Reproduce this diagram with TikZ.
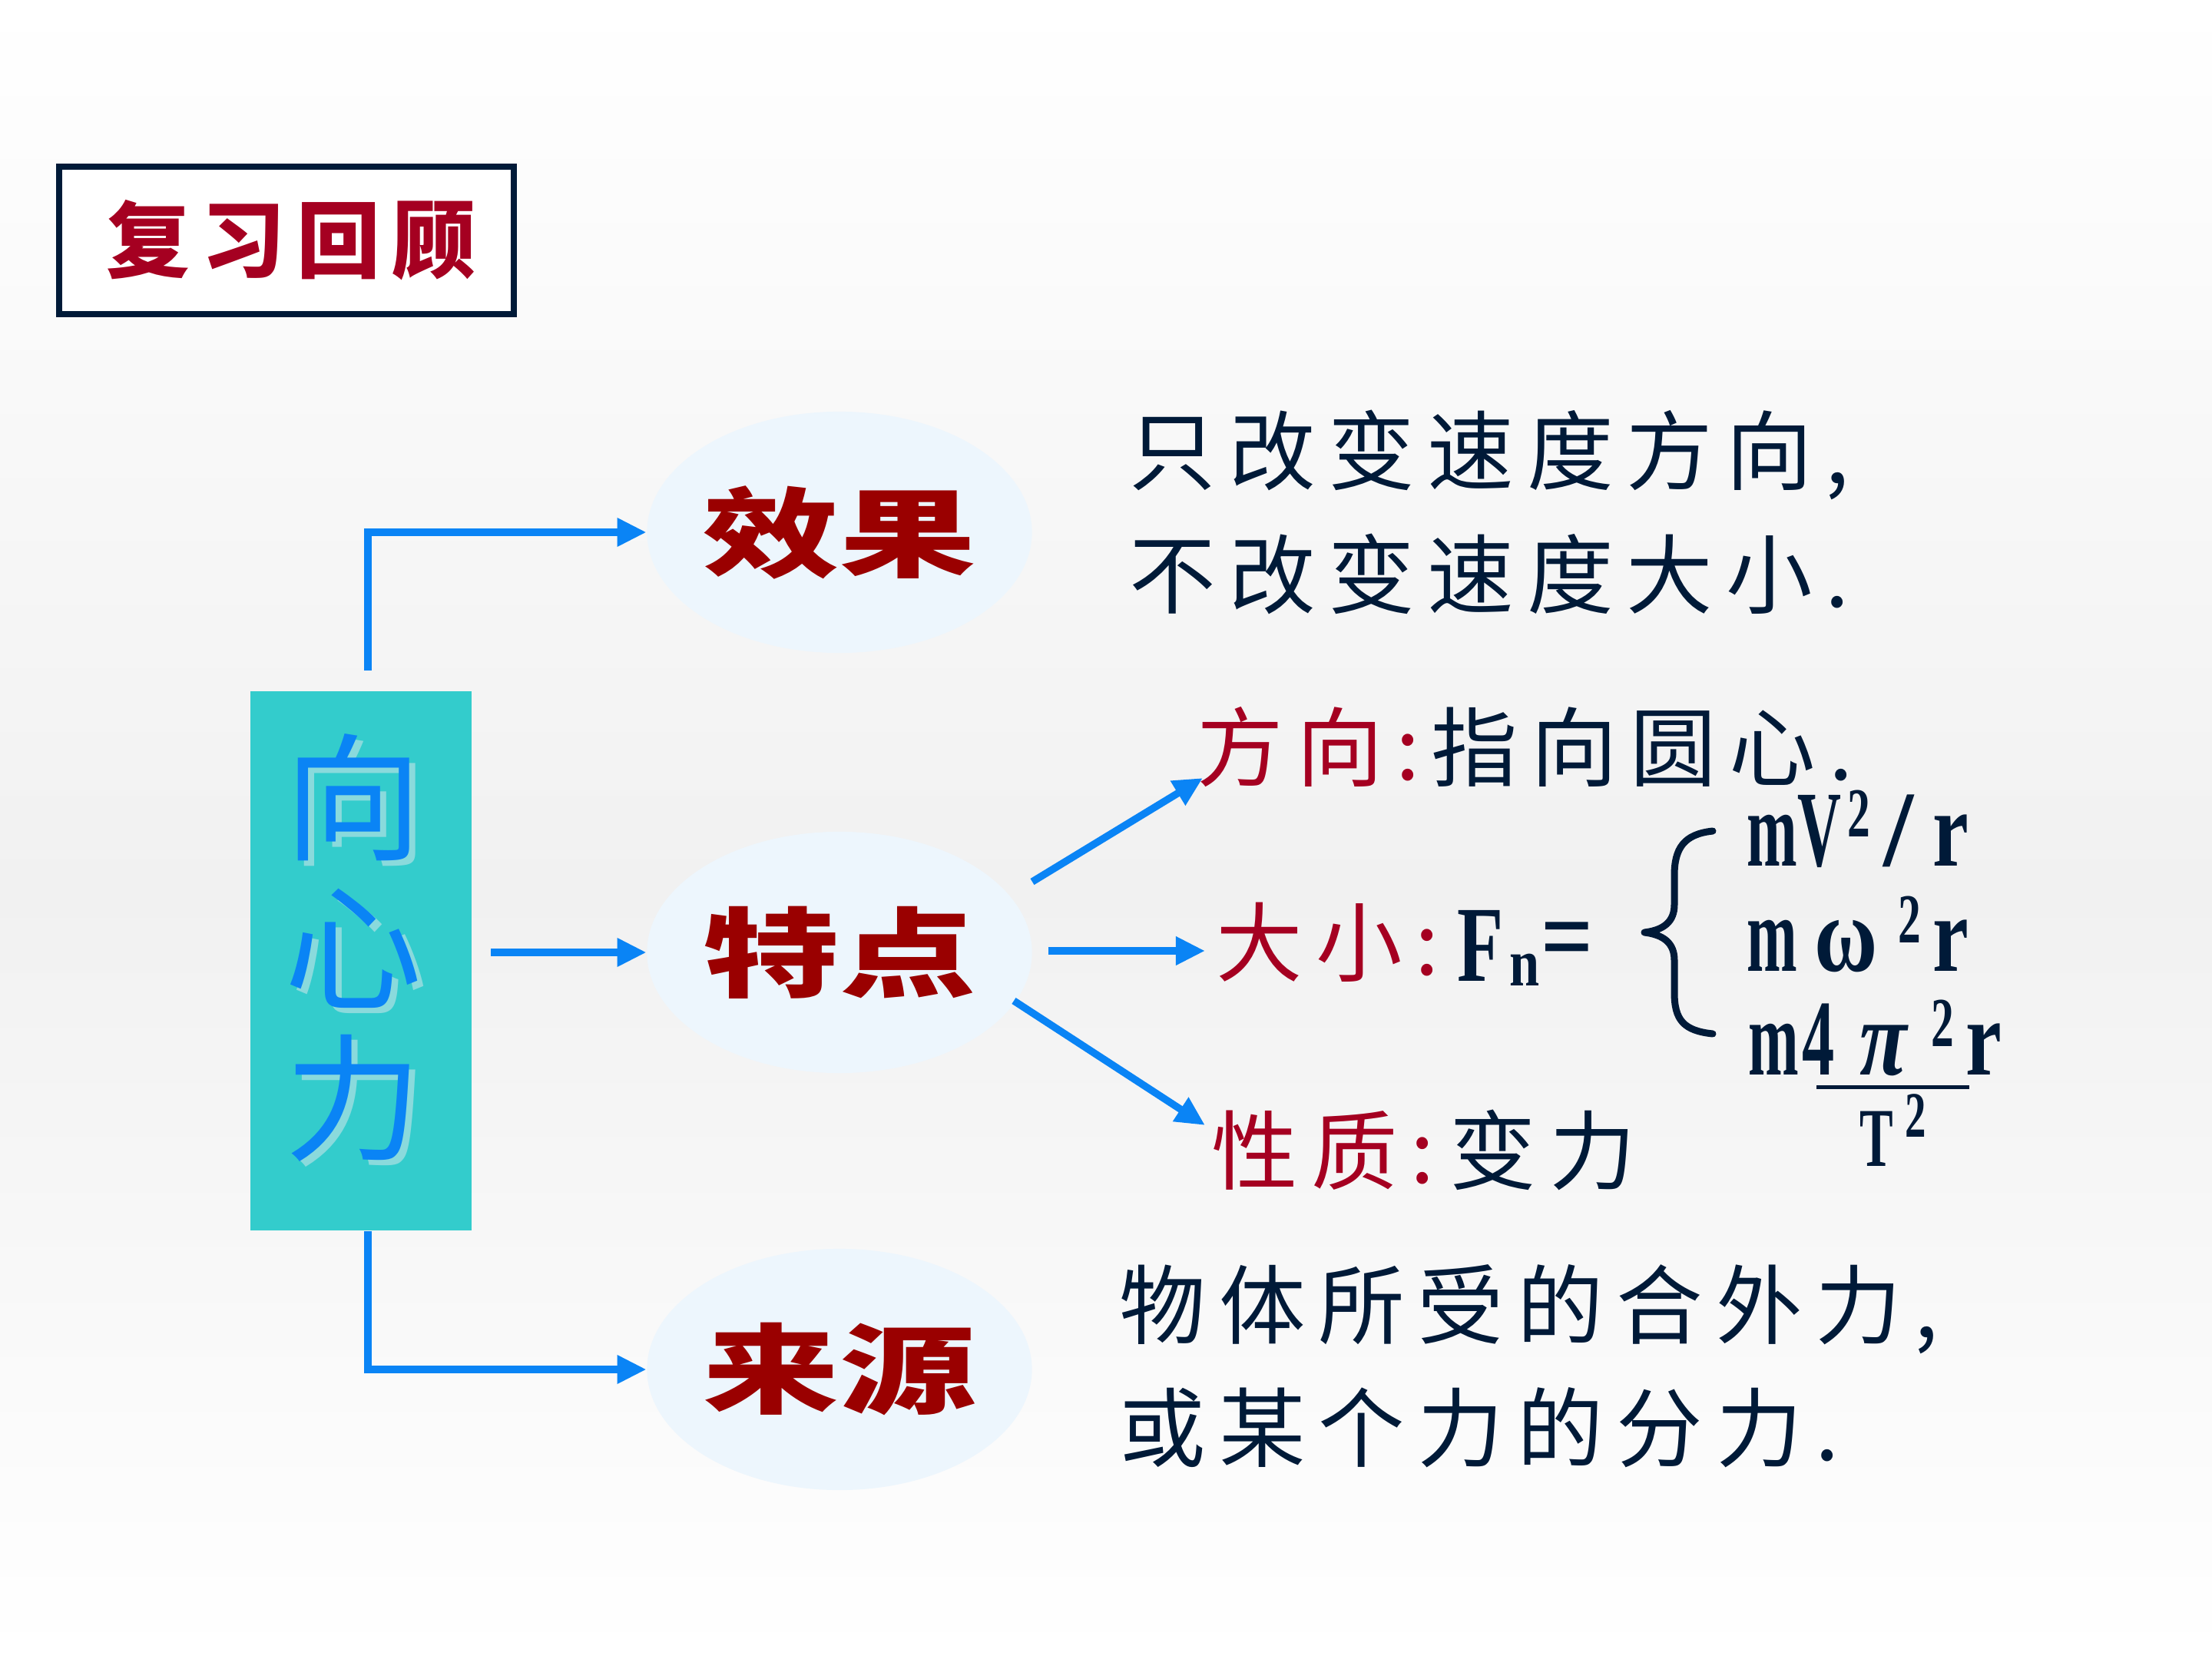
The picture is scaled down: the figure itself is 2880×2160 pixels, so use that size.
\documentclass[tikz,border=0pt]{standalone}
\usepackage{fontspec}
\usepackage{graphicx}
\usetikzlibrary{arrows.meta,shapes.geometric}
\newfontfamily\cjk{Noto Sans CJK SC}
\newfontfamily\cjkls[LetterSpace=15]{Noto Sans CJK SC}
\newfontfamily\cjkt[LetterSpace=14]{Noto Sans CJK SC}
\newfontfamily\fml{Liberation Serif}
\definecolor{navy}{HTML}{001A38}
\definecolor{dred}{HTML}{A50021}
\definecolor{ered}{HTML}{9A0000}
\definecolor{ablue}{HTML}{0A84F5}
\definecolor{tealbox}{HTML}{33CCCC}
\definecolor{shadowc}{HTML}{8ADADC}
\definecolor{ellc}{HTML}{EDF6FD}
\definecolor{bgmid}{HTML}{F1F1F1}
\newcommand{\sx}[2]{\scalebox{#1}[1]{#2}}
\begin{document}
\begin{tikzpicture}[x=0.01cm,y=-0.01cm,
  conn/.style={draw=ablue, line width=0.095cm, -{Triangle[length=0.38cm,width=0.35cm]}},
  ell/.style={ellipse, fill=ellc, minimum width=4.96cm, minimum height=3.14cm, inner sep=0pt,
    font=\cjk\bfseries\fontsize{36pt}{40pt}\selectfont, text=ered},
  kt/.style={font=\cjkls\fontsize{32pt}{38pt}\selectfont, text=navy, inner sep=0pt, anchor=west},
  fm/.style={font=\fml\bfseries\fontsize{40pt}{44pt}\selectfont, text=navy, inner sep=0pt, anchor=base west},
  fs/.style={font=\fml\bfseries\fontsize{26pt}{30pt}\selectfont, text=navy, inner sep=0pt, anchor=base west}]
\useasboundingbox (0,0) rectangle (2880,2160);
\shade[top color=white, bottom color=bgmid] (0,0) rectangle (2880,1160);
\shade[top color=bgmid, bottom color=white] (0,1159) rectangle (2880,2160);

% title
\node (title) [draw=navy, line width=0.08cm, fill=white, minimum width=5.91cm, minimum height=1.92cm,
  inner sep=0pt, font=\cjkt\bfseries\fontsize{31pt}{36pt}\selectfont, text=dred] at (373,313) {\hspace{0.12cm}复习回顾};

% main box
\node (xxl) [fill=tealbox, minimum width=2.88cm, minimum height=7.02cm, inner sep=0pt] at (470,1251) {};
\node (xxlsh) [align=center, font=\cjk\fontsize{51pt}{55.5pt}\selectfont, text=shadowc, inner sep=0pt] at (468,1241) {向\\心\\力};
\node (xxlt) [align=center, font=\cjk\fontsize{51pt}{55.5pt}\selectfont, text=ablue, inner sep=0pt] at (460,1234) {向\\心\\力};

% ellipses
\node (xg) [ell] at (1093,693) {\sx{1.4}{效果}};
\node (td) [ell] at (1093,1240) {\sx{1.4}{特点}};
\node (ly) [ell] at (1093,1783) {\sx{1.4}{来源}};

% left connectors
\draw[conn] ([shift={(9,-26)}]xxl.north) |- (xg);
\coordinate (m0) at (639,1240);
\draw[conn] (m0) -- (td.west);
\draw[conn] ([shift={(9,0)}]xxl.south) |- (ly);

% right connectors
\coordinate (d1s) at (1344,1148);
\coordinate (d1e) at (1566,1013);
\coordinate (d2s) at (1365,1238);
\coordinate (d2e) at (1569,1238);
\coordinate (d3s) at (1320,1303);
\coordinate (d3e) at (1569,1465);
\draw[conn] (d1s) -- (d1e);
\draw[conn] (d2s) -- (d2e);
\draw[conn] (d3s) -- (d3e);

% texts
\node (t1) [kt] at (1470,592) {只改变速度方向,};
\node (t2) [kt] at (1470,747) {不改变速度大小.};
\node (b1) [kt] at (1457,1705) {物体所受的合外力,};
\node (b2) [kt] at (1457,1859) {或某个力的分力.};

\node (fx) [kt] at (1558,973) {\textcolor{dred}{方向:}\hspace{0.15cm}指向圆心.};
\node (dx) [kt] at (1583,1227) {\textcolor{dred}{大小:}};
\node (xz) [kt] at (1577,1497) {\textcolor{dred}{性质:}\hspace{0.2cm}变力};

% F_n =
\node (fF) [fm] at (1897,1277) {\sx{0.7}{F}};
\node (fn) [fm, font=\fml\bfseries\fontsize{25pt}{28pt}\selectfont] at (1965,1283) {\sx{0.8}{n}};
\node (feq) [font=\fml\bfseries\fontsize{40pt}{44pt}\selectfont, text=navy, inner sep=0pt] at (2041,1234) {\sx{0.85}{=}};

% brace
\draw[navy, line width=0.09cm, line join=round, line cap=round] (2230,1082) .. controls (2192,1086) and (2180,1105) .. (2180,1140)
  -- (2180,1178) .. controls (2180,1200) and (2166,1211) .. (2141,1214)
  .. controls (2166,1217) and (2180,1228) .. (2180,1250)
  -- (2180,1292) .. controls (2180,1328) and (2192,1342) .. (2230,1346);

% formula line 1
\node (f1m) [fm] at (2274,1127) {\sx{0.56}{m}};
\node (f1V) [fm] at (2340,1127) {\sx{0.56}{V}};
\node (f1s) [fs] at (2405,1089) {\sx{0.65}{2}};
\node (f1sl) [fm] at (2452,1127) {/};
\node (f1r) [fm] at (2516,1127) {\sx{0.75}{r}};
% line 2
\node (f2m) [fm] at (2274,1264) {\sx{0.56}{m}};
\node (f2w) [fm] at (2362,1264) {\sx{0.8}{ω}};
\node (f2s) [fs] at (2471,1227) {\sx{0.65}{2}};
\node (f2r) [fm] at (2516,1264) {\sx{0.75}{r}};
% line 3
\node (f3m) [fm] at (2276,1399) {\sx{0.56}{m}};
\node (f3f) [fm] at (2346,1399) {\sx{0.6}{4}};
\node (f3p) [fm] at (2421,1399) {\sx{0.8}{\itshape π}};
\node (f3s) [fs] at (2514,1362) {\sx{0.65}{2}};
\node (f3r) [fm] at (2559,1399) {\sx{0.75}{r}};
\coordinate (fl1) at (2365,1415);
\coordinate (fl2) at (2564,1415);
\draw[navy, line width=0.05cm] (fl1) -- (fl2);
\node (fT) [fm, font=\fml\bfseries\fontsize{31pt}{34pt}\selectfont] at (2421,1518) {\sx{0.6}{T}};
\node (fT2) [fs, font=\fml\bfseries\fontsize{24pt}{28pt}\selectfont] at (2480,1480) {\sx{0.65}{2}};
\end{tikzpicture}
\end{document}
